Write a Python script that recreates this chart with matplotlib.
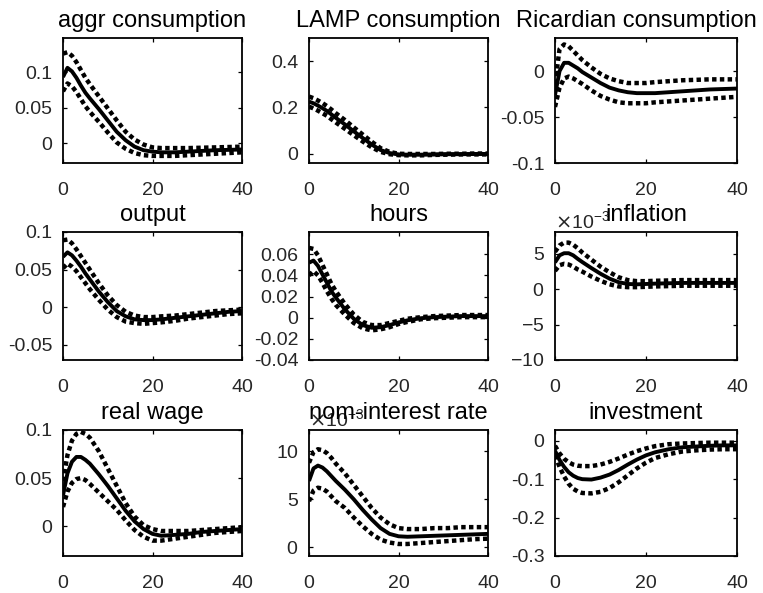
import matplotlib.pyplot as plt
from matplotlib.ticker import FuncFormatter, ScalarFormatter

plt.rcParams['font.family'] = ['Liberation Sans', 'DejaVu Sans']
plt.rcParams['axes.unicode_minus'] = False

horizon = [0, 1, 2, 3, 4, 5, 6, 8, 10, 12, 14, 16, 18, 20, 22, 25, 28, 31, 34, 37, 40]

titles = ['aggr consumption', 'LAMP consumption', 'Ricardian consumption',
          'output', 'hours', 'inflation',
          'real wage', 'nom-interest rate', 'investment']

# median response and error bands for each variable
aggr_c_mid = [0.093, 0.106, 0.101, 0.092, 0.081, 0.071, 0.063, 0.048, 0.032, 0.016, 0.004, -0.005, -0.010, -0.012, -0.013, -0.013, -0.012, -0.011, -0.010, -0.0095, -0.009]
aggr_c_up = [0.126, 0.128, 0.123, 0.114, 0.103, 0.092, 0.083, 0.066, 0.049, 0.032, 0.016, 0.005, -0.002, -0.006, -0.007, -0.007, -0.007, -0.0065, -0.006, -0.0055, -0.005]
aggr_c_lo = [0.073, 0.084, 0.080, 0.072, 0.062, 0.052, 0.044, 0.030, 0.015, 0.001, -0.008, -0.014, -0.017, -0.018, -0.018, -0.018, -0.017, -0.016, -0.015, -0.014, -0.013]

lamp_c_mid = [0.225, 0.218, 0.208, 0.197, 0.185, 0.170, 0.155, 0.127, 0.097, 0.068, 0.040, 0.016, 0.003, -0.003, -0.004, -0.004, -0.003, -0.002, -0.002, -0.001, -0.001]
lamp_c_up = [0.247, 0.240, 0.230, 0.219, 0.206, 0.191, 0.175, 0.146, 0.114, 0.083, 0.052, 0.024, 0.008, 0.000, -0.001, -0.001, -0.001, 0.000, 0.000, 0.001, 0.001]
lamp_c_lo = [0.203, 0.196, 0.186, 0.175, 0.164, 0.149, 0.135, 0.108, 0.080, 0.053, 0.028, 0.008, -0.002, -0.006, -0.007, -0.007, -0.005, -0.004, -0.003, -0.003, -0.003]

ric_c_mid = [-0.026, 0.000, 0.009, 0.009, 0.006, 0.003, -0.001, -0.007, -0.013, -0.018, -0.021, -0.023, -0.024, -0.024, -0.024, -0.023, -0.022, -0.021, -0.020, -0.0195, -0.019]
ric_c_up = [-0.014, 0.024, 0.029, 0.027, 0.022, 0.017, 0.012, 0.004, -0.003, -0.008, -0.011, -0.013, -0.013, -0.013, -0.012, -0.011, -0.010, -0.0095, -0.009, -0.009, -0.009]
ric_c_lo = [-0.039, -0.018, -0.008, -0.006, -0.008, -0.011, -0.014, -0.021, -0.027, -0.031, -0.034, -0.035, -0.035, -0.035, -0.034, -0.033, -0.032, -0.031, -0.030, -0.029, -0.028]

output_mid = [0.067, 0.073, 0.069, 0.062, 0.054, 0.045, 0.037, 0.021, 0.007, -0.005, -0.012, -0.016, -0.017, -0.017, -0.016, -0.014, -0.012, -0.010, -0.008, -0.006, -0.005]
output_up = [0.089, 0.090, 0.085, 0.077, 0.068, 0.059, 0.050, 0.032, 0.016, 0.003, -0.006, -0.011, -0.013, -0.013, -0.012, -0.011, -0.009, -0.007, -0.005, -0.004, -0.003]
output_lo = [0.052, 0.058, 0.054, 0.048, 0.040, 0.032, 0.024, 0.010, -0.003, -0.013, -0.019, -0.021, -0.022, -0.021, -0.020, -0.018, -0.015, -0.013, -0.011, -0.009, -0.008]

hours_mid = [0.052, 0.054, 0.049, 0.041, 0.033, 0.025, 0.019, 0.008, -0.001, -0.007, -0.0095, -0.009, -0.007, -0.0045, -0.0025, -0.0005, 0.0005, 0.001, 0.0015, 0.0015, 0.0015]
hours_up = [0.066, 0.065, 0.059, 0.050, 0.041, 0.032, 0.025, 0.013, 0.003, -0.004, -0.007, -0.007, -0.005, -0.003, -0.001, 0.0005, 0.0015, 0.002, 0.0025, 0.0025, 0.0025]
hours_lo = [0.040, 0.044, 0.040, 0.033, 0.025, 0.018, 0.012, 0.003, -0.005, -0.010, -0.012, -0.011, -0.009, -0.006, -0.004, -0.0015, -0.0005, 0.0, 0.0005, 0.0005, 0.0005]

infl_mid = [0.0038, 0.0048, 0.0051, 0.0051, 0.0048, 0.0043, 0.00385, 0.0030, 0.0022, 0.0015, 0.0010, 0.00075, 0.0007, 0.00075, 0.0008, 0.00085, 0.0009, 0.0009, 0.0009, 0.0009, 0.0009]
infl_up = [0.0053, 0.0062, 0.0066, 0.0066, 0.0063, 0.0058, 0.0052, 0.0042, 0.0032, 0.0024, 0.0017, 0.0013, 0.00115, 0.00115, 0.0012, 0.00125, 0.0013, 0.0013, 0.0013, 0.0013, 0.0013]
infl_lo = [0.0026, 0.0034, 0.0036, 0.0035, 0.0032, 0.0028, 0.0025, 0.0018, 0.0012, 0.0007, 0.0004, 0.0003, 0.0003, 0.00035, 0.0004, 0.00045, 0.0005, 0.0005, 0.0005, 0.0005, 0.0005]

wage_mid = [0.032, 0.055, 0.067, 0.072, 0.072, 0.069, 0.065, 0.054, 0.042, 0.029, 0.016, 0.005, -0.003, -0.008, -0.010, -0.009, -0.008, -0.006, -0.005, -0.004, -0.003]
wage_up = [0.047, 0.074, 0.089, 0.096, 0.098, 0.096, 0.092, 0.078, 0.060, 0.042, 0.024, 0.010, 0.001, -0.003, -0.005, -0.005, -0.005, -0.004, -0.003, -0.002, -0.001]
wage_lo = [0.020, 0.036, 0.045, 0.049, 0.050, 0.048, 0.044, 0.035, 0.026, 0.017, 0.006, -0.004, -0.011, -0.015, -0.015, -0.013, -0.011, -0.009, -0.007, -0.006, -0.005]

rate_mid = [0.0069, 0.0082, 0.0085, 0.0083, 0.0079, 0.0074, 0.0069, 0.0060, 0.0050, 0.0039, 0.0029, 0.0020, 0.0014, 0.00115, 0.0011, 0.00115, 0.0012, 0.00125, 0.0013, 0.00135, 0.0014]
rate_up = [0.0088, 0.0099, 0.0102, 0.0101, 0.0098, 0.0093, 0.0087, 0.0077, 0.0065, 0.0053, 0.0041, 0.0031, 0.0024, 0.0020, 0.0019, 0.0019, 0.0020, 0.0020, 0.0021, 0.0021, 0.0021]
rate_lo = [0.0048, 0.0059, 0.0062, 0.0061, 0.0058, 0.0053, 0.0048, 0.0041, 0.0031, 0.0022, 0.0014, 0.0008, 0.0005, 0.00035, 0.00035, 0.00045, 0.00055, 0.00065, 0.00075, 0.00085, 0.0009]

invest_mid = [-0.026, -0.050, -0.068, -0.082, -0.091, -0.097, -0.100, -0.101, -0.096, -0.088, -0.076, -0.062, -0.049, -0.038, -0.030, -0.022, -0.017, -0.015, -0.013, -0.012, -0.012]
invest_up = [-0.013, -0.033, -0.047, -0.056, -0.062, -0.065, -0.066, -0.066, -0.062, -0.055, -0.046, -0.036, -0.027, -0.020, -0.014, -0.009, -0.007, -0.006, -0.005, -0.005, -0.005]
invest_lo = [-0.038, -0.068, -0.093, -0.112, -0.125, -0.132, -0.136, -0.137, -0.133, -0.123, -0.108, -0.090, -0.072, -0.057, -0.045, -0.035, -0.028, -0.025, -0.023, -0.022, -0.022]

y_limits = [(-0.028, 0.148), (-0.04, 0.5), (-0.1, 0.036),
            (-0.07, 0.1), (-0.04, 0.081), (-0.01, 0.0081),
            (-0.031, 0.1), (-0.0009, 0.0122), (-0.3, 0.028)]
y_ticks = [[0, 0.05, 0.1], [0, 0.2, 0.4], [-0.1, -0.05, 0],
           [-0.05, 0, 0.05, 0.1], [-0.04, -0.02, 0, 0.02, 0.04, 0.06], [-0.01, -0.005, 0, 0.005],
           [0, 0.05, 0.1], [0, 0.005, 0.01], [-0.3, -0.2, -0.1, 0]]
x_ticks = [0, 20, 40]

responses = [(aggr_c_mid, aggr_c_up, aggr_c_lo), (lamp_c_mid, lamp_c_up, lamp_c_lo),
             (ric_c_mid, ric_c_up, ric_c_lo), (output_mid, output_up, output_lo),
             (hours_mid, hours_up, hours_lo), (infl_mid, infl_up, infl_lo),
             (wage_mid, wage_up, wage_lo), (rate_mid, rate_up, rate_lo),
             (invest_mid, invest_up, invest_lo)]
sci_panels = ['inflation', 'nom-interest rate']

W, H = 763, 593
fig = plt.figure(figsize=(W / 100, H / 100), dpi=100)

# axes boxes in pixels, MATLAB subplot style
col_left = [63, 309, 555]
col_width = [179, 179, 182]
row_top = [38, 232, 430]
row_height = [125, 128, 126]

tick_color = '#262626'
for i, title in enumerate(titles):
    r, c = divmod(i, 3)
    ax = fig.add_axes([col_left[c] / W, 1 - (row_top[r] + row_height[r]) / H,
                       col_width[c] / W, row_height[r] / H])
    mid, up, lo = responses[i]
    ax.plot(horizon, up, color='black', lw=3.2, linestyle=(0, (1, 0.75)), dash_capstyle='butt')
    ax.plot(horizon, lo, color='black', lw=3.2, linestyle=(0, (1, 0.75)), dash_capstyle='butt')
    ax.plot(horizon, mid, color='black', lw=2.8, solid_capstyle='butt')

    ax.set_xlim(0, 40)
    ax.set_ylim(*y_limits[i])
    ax.set_xticks(x_ticks)
    ax.set_yticks(y_ticks[i])
    if title in sci_panels:
        fmt = ScalarFormatter(useMathText=True)
        fmt.set_powerlimits((-3, -3))
        ax.yaxis.set_major_formatter(fmt)
        ax.yaxis.get_offset_text().set_fontsize(14)
        ax.yaxis.get_offset_text().set_color(tick_color)
    else:
        ax.yaxis.set_major_formatter(FuncFormatter(lambda v, p: '%g' % v))

    ax.tick_params(direction='in', top=True, right=True, length=3, width=0.9,
                   labelsize=14, labelcolor=tick_color, color='black')
    ax.tick_params(axis='x', pad=14)
    ax.tick_params(axis='y', pad=7.5)
    for s in ax.spines.values():
        s.set_linewidth(1.3)
    # the long right-column title sits a little left so it stays inside the figure
    tx = 0.445 if title == 'Ricardian consumption' else 0.5
    ax.set_title(title, fontsize=17, pad=8, x=tx, y=1.0)

fig.savefig('out.png', dpi=100)
